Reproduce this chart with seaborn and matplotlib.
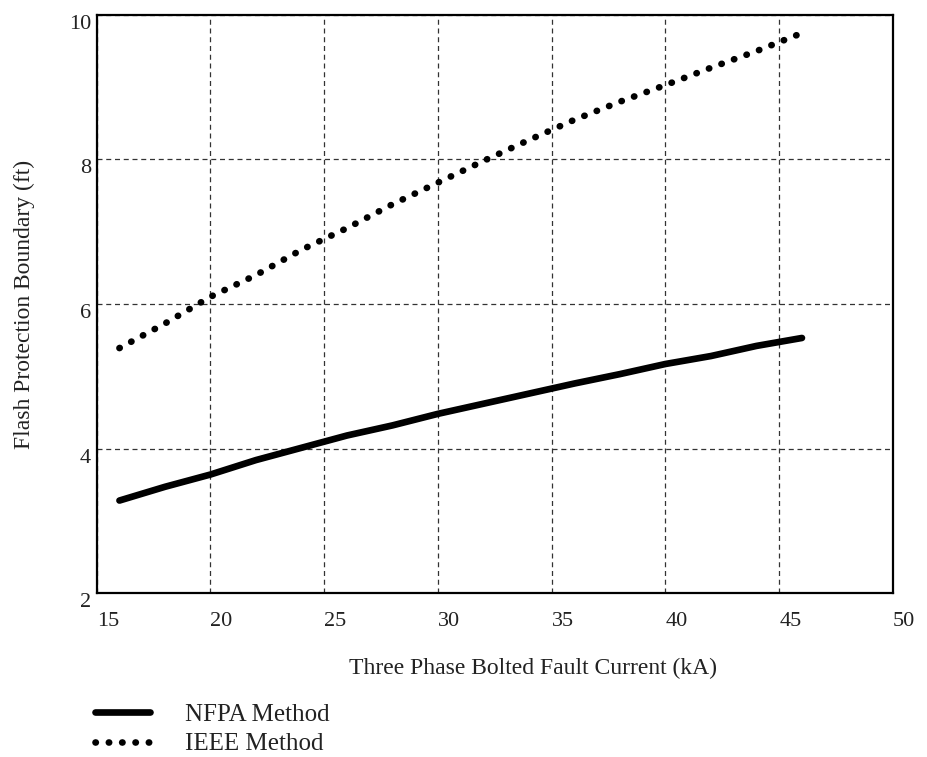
import pandas as pd
import matplotlib.pyplot as plt
import seaborn as sns

# values
fault_current = [16, 18, 20, 22, 24, 26, 28, 30, 32, 34, 36, 38, 40, 42, 44, 46]
nfpa = [3.28, 3.47, 3.64, 3.84, 4.01, 4.18, 4.32, 4.48, 4.62, 4.76, 4.90, 5.03, 5.17, 5.28, 5.42, 5.53]
ieee = [5.39, 5.73, 6.10, 6.40, 6.75, 7.05, 7.38, 7.68, 7.98, 8.27, 8.55, 8.80, 9.03, 9.27, 9.50, 9.75]
x_ticks = [15, 20, 25, 30, 35, 40, 45, 50]
y_ticks = [2, 4, 6, 8, 10]

df = pd.DataFrame({'current': fault_current, 'NFPA Method': nfpa, 'IEEE Method': ieee})

sns.set_style('white')
plt.rcParams['font.family'] = ['Liberation Serif', 'DejaVu Serif']

fig = plt.figure(figsize=(9.27, 7.57), dpi=100)
ax = fig.add_axes([0.1043, 0.2166, 0.859, 0.7636])

sns.lineplot(data=df, x='current', y='NFPA Method', ax=ax, color='black',
             linewidth=4.8, solid_capstyle='round', label='NFPA Method')
sns.lineplot(data=df, x='current', y='IEEE Method', ax=ax, color='black',
             linewidth=4.8, linestyle=(0, (0.05, 1.95)), dash_capstyle='round',
             label='IEEE Method')

ax.set_xlim(15, 50)
ax.set_ylim(2, 10)
ax.set_xticks(x_ticks)
ax.set_yticks(y_ticks)
ax.set_xticklabels([str(t) for t in x_ticks], ha='left', fontsize=16)
ax.set_yticklabels([str(t) for t in y_ticks], va='top', fontsize=16)
ax.tick_params(axis='both', length=0, colors='#222222')
ax.tick_params(axis='x', pad=14)
ax.tick_params(axis='y', pad=4)

ax.grid(True, linestyle=(0, (4, 3)), color='#333333', linewidth=0.9)
for s in ax.spines.values():
    s.set_color('black')
    s.set_linewidth(1.6)

ax.set_xlabel('Three Phase Bolted Fault Current (kA)', fontsize=17, color='#222222')
ax.xaxis.set_label_coords(0.548, -0.112)
ax.set_ylabel('Flash Protection Boundary (ft)', fontsize=17, color='#222222')
ax.yaxis.set_label_coords(-0.077, 0.5)

handles, labels = ax.get_legend_handles_labels()
ax.get_legend().remove()
fig.legend(handles, labels, loc='upper left', bbox_to_anchor=(0.1025, 0.071),
           frameon=False, fontsize=18, handlelength=2.2, handletextpad=1.4,
           labelspacing=0.28, borderpad=0, borderaxespad=0, labelcolor='#222222')

fig.savefig('out.png', dpi=100)
